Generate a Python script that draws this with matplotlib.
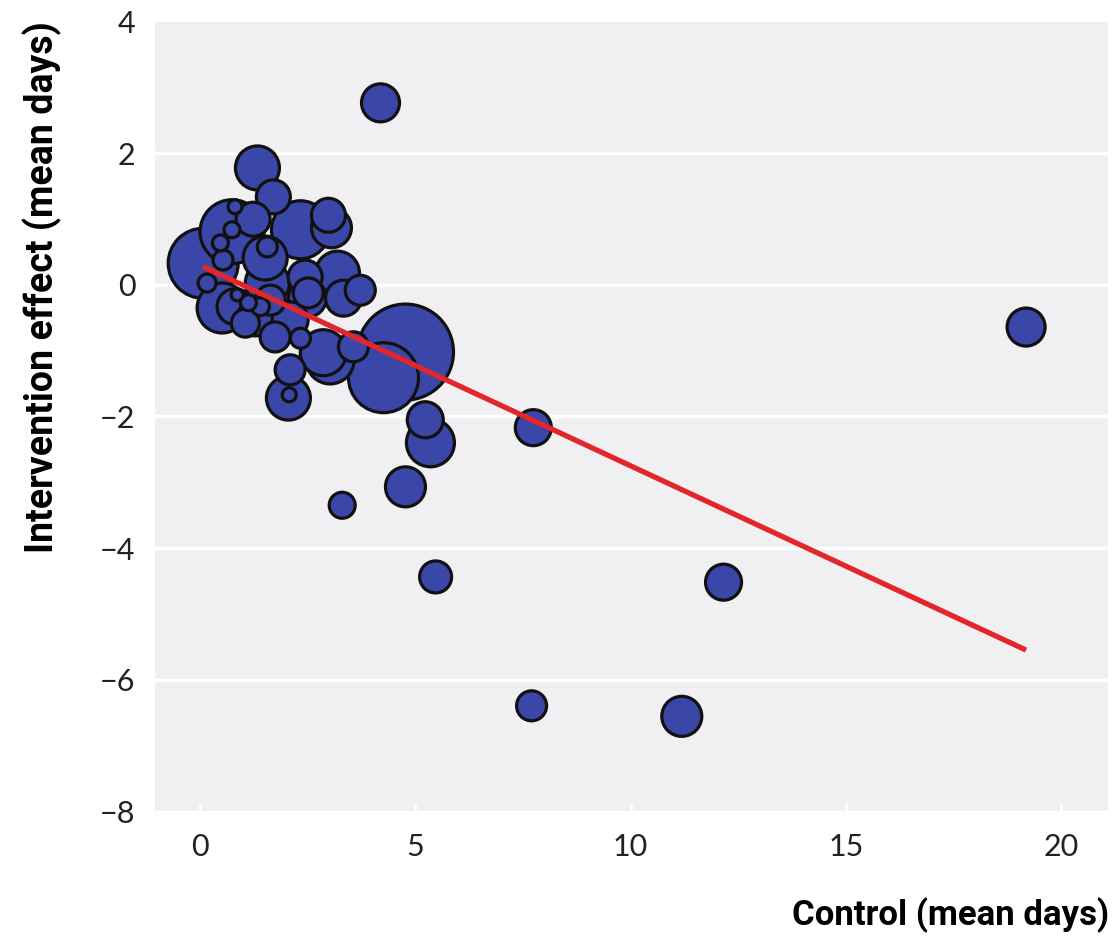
import numpy as np
import matplotlib
matplotlib.use('Agg')
import matplotlib.pyplot as plt

# Control mean days (x), intervention effect (y), bubble radius (study weight)
control_days = [4.19, 19.19, 7.74, 4.77, 3.30, 5.47, 12.16, 7.70, 11.19, 5.35, 5.23,
                4.77, 4.26, 0.07, 0.74,
                1.33, 1.70, 1.23, 0.81, 0.74, 0.47, 0.53, 1.56, 0.16, 2.33, 2.98, 3.05,
                0.51, 0.81, 1.12, 1.40, 0.86, 1.63, 1.74, 2.33, 2.09, 2.05, 2.07, 2.86,
                3.02, 1.28, 2.49, 2.44, 3.19, 3.33, 3.72, 2.51, 3.56, 1.56, 2.09, 1.51, 1.05]
effect_days = [2.77, -0.64, -2.17, -3.07, -3.35, -4.44, -4.52, -6.40, -6.56, -2.40, -2.05,
               -1.02, -1.41, 0.33, 0.81,
               1.78, 1.34, 1.00, 1.19, 0.84, 0.64, 0.38, 0.58, 0.03, 0.84, 1.06, 0.87,
               -0.35, -0.33, -0.27, -0.33, -0.15, -0.23, -0.79, -0.81, -1.29, -1.72, -1.67, -1.03,
               -1.14, -0.50, -0.20, 0.12, 0.18, -0.20, -0.08, -0.12, -0.94, 0.03, -0.53, 0.41, -0.58]
weights = [19, 19, 18, 20, 13, 16, 18, 15, 20, 24, 18,
           48, 35, 35, 32,
           22, 17, 17, 7, 8, 8, 10, 10, 9, 29, 17, 20,
           25, 18, 8, 9, 6, 15, 15, 10, 15, 22, 7, 23,
           24, 18, 19, 17, 22, 18, 15, 15, 15, 22, 18, 22, 14]

# meta-regression line
fit_intercept = 0.30
fit_slope = -0.305

x = np.array(control_days)
y = np.array(effect_days)
w = np.array(weights, dtype=float)

fig = plt.figure(figsize=(11.15, 9.39), dpi=100)
ax = fig.add_axes([0.139, 0.1363, 0.855, 0.8403])
ax.set_facecolor('#f0f0f2')

order = np.argsort(-w, kind='stable')
sizes = (2 * w * 0.72) ** 2
ax.scatter(x[order], y[order], s=sizes[order], c='#3a46a8', edgecolors='#111111',
           linewidths=2.3, zorder=3)

xl = np.array([x.min(), x.max()])
ax.plot(xl, fit_intercept + fit_slope * xl, color='#e3262b', lw=3.8, zorder=4,
        solid_capstyle='butt')

ax.set_xlim(-1.05, 21.1)
ax.set_ylim(-8, 4)
ax.set_xticks([0, 5, 10, 15, 20])
ax.set_yticks([-8, -6, -4, -2, 0, 2, 4])
ax.set_yticklabels(['\u22128', '\u22126', '\u22124', '\u22122', '0', '2', '4'])
for yv in [-6, -4, -2, 0, 2]:
    ax.axhline(yv, color='white', lw=2.5, zorder=1)
for s in ax.spines.values():
    s.set_visible(False)
ax.tick_params(axis='y', length=0, pad=14, labelsize=22, labelcolor='#222222')
ax.tick_params(axis='x', direction='in', length=6, width=2, color='white',
               pad=16, labelsize=22, labelcolor='#222222')
for lab in ax.get_xticklabels() + ax.get_yticklabels():
    lab.set_family(['Lato', 'DejaVu Sans'])

label_font = ['Roboto', 'DejaVu Sans']
fig.text(0.995, 0.006, 'Control (mean days)', ha='right', va='bottom',
         fontsize=25, fontweight='bold', family=label_font)
fig.text(0.038, 0.694, 'Intervention effect (mean days)', ha='center', va='center',
         rotation=90, fontsize=27, fontweight='bold', family=label_font)

fig.savefig('out.png', dpi=100)
